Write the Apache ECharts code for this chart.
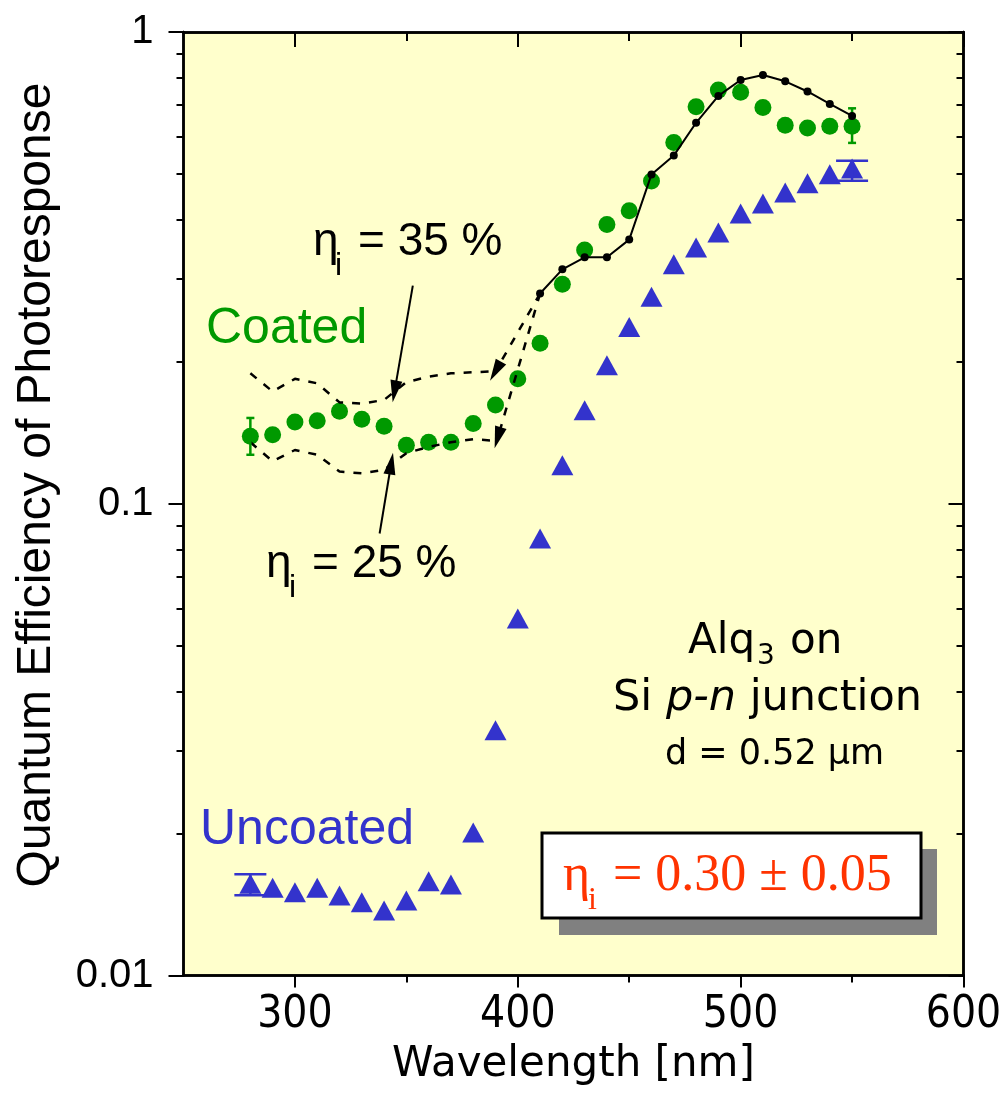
<!DOCTYPE html>
<html>
<head>
<meta charset="utf-8">
<script src="https://cdn.jsdelivr.net/npm/echarts@6/dist/echarts.min.js"></script>
<style>html,body{margin:0;padding:0;background:#fff}#main{width:999px;height:1095px}</style>
</head>
<body>
<div id="main"></div>
<script>
var wavelength = [280,290,300,310,320,330,340,350,360,370,380,390,400,410,420,430,440,450,460,470,480,490,500,510,520,530,540,550];
var coated = [0.139,0.140,0.149,0.150,0.157,0.151,0.146,0.133,0.135,0.135,0.148,0.162,0.184,0.219,0.292,0.345,0.391,0.418,0.483,0.583,0.694,0.753,0.745,0.692,0.634,0.626,0.631,0.631];
var uncoated = [0.01565,0.01534,0.01502,0.01534,0.01478,0.0143,0.01373,0.01442,0.01585,0.0156,0.0201,0.0331,0.0571,0.0844,0.1207,0.1579,0.1967,0.2371,0.2746,0.3217,0.3494,0.3759,0.4124,0.433,0.4571,0.4777,0.4997,0.5138];

// model curves
var modelWl = [410,420,430,440,450,460,470,480,490,500,510,520,530,540,550];
var model30 = [0.279,0.314,0.333,0.333,0.363,0.499,0.547,0.642,0.732,0.791,0.811,0.786,0.748,0.704,0.664];
var fitWl = [280,290,300,310,320,330,340,350,360,370,380,390];
var fit35 = [0.189,0.173,0.184,0.180,0.164,0.163,0.166,0.181,0.186,0.189,0.190,0.191];
var fit25 = [0.135,0.123,0.130,0.127,0.117,0.116,0.118,0.128,0.132,0.135,0.137,0.136];

// error bars
var errWl = [280,550];
var coatedLow = [0.127,0.582];
var coatedHigh = [0.152,0.689];
var uncoatedLow = [0.0148,0.4839];
var uncoatedHigh = [0.0164,0.5333];

// ticks
var xMajor = [300,400,500,600];
var xMinor = [350,450,550];
var yMajor = [0.01,0.1,1];
var yMinor = [0.02,0.03,0.04,0.05,0.06,0.07,0.08,0.09,0.2,0.3,0.4,0.5,0.6,0.7,0.8,0.9];

// annotation arrows (data coords)
var arrow35 = [[352.9,0.29],[344.7,0.173]];
var arrow25 = [[338,0.0865],[343.2,0.1217]];

var GREEN = '#009900', BLUE = '#3333cc', RED = '#ff3300';

function zip(xs, ys){ return xs.map(function(x,i){ return [x, ys[i]]; }); }

function errorSeries(lo, hi, color, capHalf, width){
  return {
    type:'custom', z:4, silent:true,
    data: errWl.map(function(w,i){ return [w, lo[i], hi[i]]; }),
    encode:{x:0, y:[1,2]},
    renderItem: function(params, api){
      var a = api.coord([api.value(0), api.value(1)]);
      var b = api.coord([api.value(0), api.value(2)]);
      var st = {stroke: color, lineWidth: width};
      return {type:'group', children:[
        {type:'line', shape:{x1:a[0],y1:a[1],x2:b[0],y2:b[1]}, style:st},
        {type:'line', shape:{x1:a[0]-capHalf,y1:a[1],x2:a[0]+capHalf,y2:a[1]}, style:st},
        {type:'line', shape:{x1:b[0]-capHalf,y1:b[1],x2:b[0]+capHalf,y2:b[1]}, style:st}
      ]};
    }
  };
}

function xAx(pos, ticks, len, inside, labels){
  return {
    type:'value', position:pos, min:250, max:600, interval:50,
    axisLine:{show:true, onZero:false, lineStyle:{color:'#000', width:2.5}},
    splitLine:{show:false},
    axisTick:{show:true, customValues:ticks, length:len, inside:inside, lineStyle:{color:'#000', width:2}},
    axisLabel:{show:!!labels, customValues:xMajor, color:'#000', fontSize:44, margin:18,
      fontFamily:'"DejaVu Sans Condensed", "Liberation Sans Narrow", "DejaVu Sans"'}
  };
}
function yAx(pos, ticks, len, inside, labels){
  return {
    type:'log', logBase:10, position:pos, min:0.01, max:1,
    axisLine:{show:true, onZero:false, lineStyle:{color:'#000', width:2.5}},
    splitLine:{show:false}, minorTick:{show:false},
    axisTick:{show:true, customValues:ticks, length:len, inside:inside, lineStyle:{color:'#000', width:2}},
    axisLabel:{show:!!labels, customValues:yMajor, color:'#000', fontSize:40, margin:30,
      fontFamily:'"Liberation Sans", Arial', formatter:function(v){ return String(+v.toPrecision(3)); }}
  };
}

var xAxes = [xAx('bottom', xMajor, 12, false, true), xAx('bottom', xMinor, 7, false),
             xAx('top', xMajor, 15, true), xAx('top', xMinor, 9, true)];
xAxes[0].name = 'Wavelength [nm]';
xAxes[0].nameLocation = 'middle';
xAxes[0].nameGap = 69;
xAxes[0].nameTextStyle = {color:'#000', fontSize:42, fontFamily:'"DejaVu Sans"'};

var yAxes = [yAx('left', yMajor, 15, false, true), yAx('left', yMinor, 7, false),
             yAx('right', yMajor, 15, true), yAx('right', yMinor, 7, true)];

function txt(x, y, s, size, family, color, extra){
  var st = {text:s, x:0, y:0, font:size + 'px ' + family, fill:color,
    align:'left', verticalAlign:'middle', textAlign:'left', textVerticalAlign:'middle'};
  if (extra) for (var k in extra) st[k] = extra[k];
  return {type:'text', x:x, y:y, z:100, style:st};
}

var SANS = '"Liberation Sans", Arial';
var TAHOMA = '"DejaVu Sans"';
var SERIF = '"Liberation Serif", "Times New Roman"';

var arrowStyle = {color:'#000', width:2, type:'solid'};
var dashStyle = {color:'#000', width:2.5, type:[8,9]};

var option = {
  animation:false,
  backgroundColor:'#fff',
  grid:{left:183.5, right:35.5, top:32, bottom:119.5, show:true, backgroundColor:'#ffffcc', borderWidth:0, outerBoundsMode:'none'},
  xAxis: xAxes,
  yAxis: yAxes,
  series:[
    {type:'scatter', name:'Coated', data:zip(wavelength, coated), symbol:'circle', symbolSize:17,
      itemStyle:{color:GREEN, opacity:1}, z:2, silent:true},
    {type:'line', name:'fit35', data:zip(fitWl, fit35), showSymbol:false, symbol:'none',
      lineStyle:dashStyle, z:3, silent:true},
    {type:'line', name:'fit25', data:zip(fitWl, fit25), showSymbol:false, symbol:'none',
      lineStyle:dashStyle, z:3, silent:true},
    {type:'line', name:'model30', data:zip(modelWl, model30), symbol:'circle', symbolSize:8, showSymbol:true,
      itemStyle:{color:'#000', opacity:1}, lineStyle:{color:'#000', width:2}, z:5, silent:true,
      markLine:{silent:true, symbol:['none','triangle'], symbolSize:[12,22], label:{show:false},
        emphasis:{disabled:true},
        data:[
          [{coord:[modelWl[0], model30[0]], lineStyle:dashStyle}, {coord:[fitWl[fitWl.length-1], fit35[fit35.length-1]]}],
          [{coord:[modelWl[0], model30[0]], lineStyle:dashStyle}, {coord:[fitWl[fitWl.length-1]+1, fit25[fit25.length-1]+0.002]}],
          [{coord:arrow35[0], lineStyle:arrowStyle}, {coord:arrow35[1]}],
          [{coord:arrow25[0], lineStyle:arrowStyle}, {coord:arrow25[1]}]
        ]}},
    {type:'scatter', name:'Uncoated', data:zip(wavelength, uncoated), symbol:'triangle', symbolSize:[22,20],
      itemStyle:{color:BLUE, opacity:1}, z:2, silent:true},
    errorSeries(coatedLow, coatedHigh, GREEN, 4, 2.5),
    errorSeries(uncoatedLow, uncoatedHigh, BLUE, 16, 2.5)
  ],
  graphic:[
    txt(37, 485, 'Quantum Efficiency of Photoresponse', 48, SANS, '#000',
      {align:'center', textAlign:'center'}),
    txt(206, 329, 'Coated', 50, SANS, GREEN),
    txt(200, 830, 'Uncoated', 50, SANS, BLUE),
    // eta = 35 %
    txt(313, 242, 'η', 46, SANS, '#000'),
    txt(335, 266, 'i', 32, SANS, '#000'),
    txt(358, 242, '= 35 %', 46, SANS, '#000'),
    // eta = 25 %
    txt(266, 564, 'η', 46, SANS, '#000'),
    txt(289, 588, 'i', 32, SANS, '#000'),
    txt(312, 564, '= 25 %', 46, SANS, '#000'),
    // sample description
    txt(688, 642, 'Alq', 42, TAHOMA, '#000'),
    txt(757, 657, '3', 28, TAHOMA, '#000'),
    txt(790, 642, 'on', 42, TAHOMA, '#000'),
    {type:'text', x:613, y:699, z:100, style:{x:0, y:0, text:'{n|Si }{i|p-n}{n| junction}',
      align:'left', verticalAlign:'middle', textAlign:'left', textVerticalAlign:'middle',
      rich:{n:{fontSize:43, fontFamily:TAHOMA, fill:'#000', color:'#000'},
            i:{fontSize:43, fontFamily:TAHOMA, fontStyle:'italic', fill:'#000', color:'#000'}}}},
    txt(665, 755, 'd = 0.52 μm', 35, TAHOMA, '#000'),
    // result box
    {type:'rect', z:90, shape:{x:559, y:849, width:378, height:86}, style:{fill:'#808080'}},
    {type:'rect', z:91, shape:{x:542, y:833, width:379, height:85}, style:{fill:'#fff', stroke:'#000', lineWidth:3}},
    txt(563, 876, 'η', 52, SERIF, RED),
    txt(588, 901, 'i', 32, SERIF, RED),
    txt(613, 876, '= 0.30 ± 0.05', 52, SERIF, RED)
  ]
};
option.graphic[0].rotation = Math.PI / 2;

var chart = echarts.init(document.getElementById('main'));
chart.setOption(option);
</script>
</body>
</html>
